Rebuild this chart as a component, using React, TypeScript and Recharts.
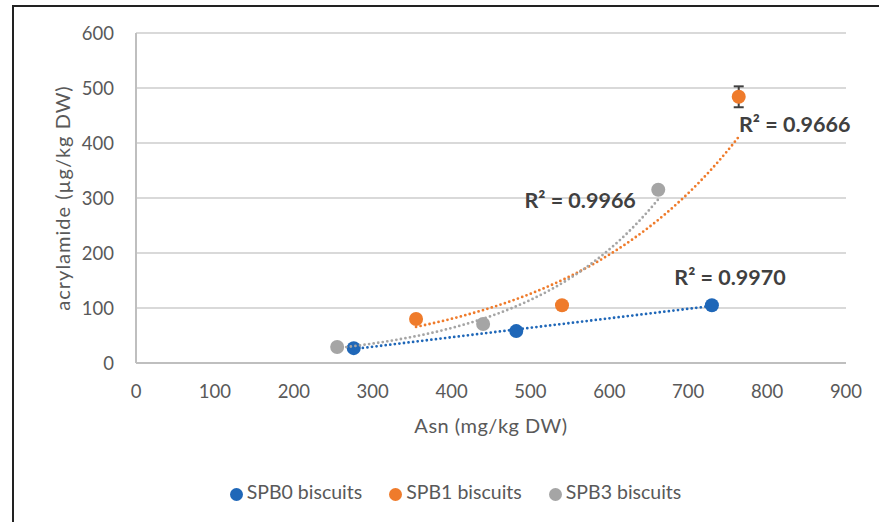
import React from 'react';
import {
  ScatterChart,
  Scatter,
  XAxis,
  YAxis,
  CartesianGrid,
  Legend,
  ErrorBar,
  ReferenceDot,
} from 'recharts';

// Asn vs acrylamide, one list per biscuit type
const SPB0_ASN = [276, 482, 730];
const SPB0_ACR = [27, 58, 105];

const SPB1_ASN = [355, 540, 764];
const SPB1_ACR = [80, 105, 484];
const SPB1_SD = [null, null, 19];

const SPB3_ASN = [255, 440, 662];
const SPB3_ACR = [29, 71, 315];

const X_TICKS = [0, 100, 200, 300, 400, 500, 600, 700, 800, 900];
const Y_TICKS = [0, 100, 200, 300, 400, 500, 600];

// R² annotations: text and where they sit in data units
const R2_TEXT = ['R² = 0.9970', 'R² = 0.9666', 'R² = 0.9966'];
const R2_X = [753, 835, 563];
const R2_Y = [155, 433, 295];

const BLUE = '#1f67b8';
const ORANGE = '#ef7b2b';
const GRAY = '#a5a5a5';
const TEXT = '#595959';

const toPoints = (xs: number[], ys: number[], err?: (number | null)[]) =>
  xs.map((x, i) => ({ x, y: ys[i], err: err ? err[i] : null }));

// least squares line y = a + b*x
const fitLine = (xs: number[], ys: number[]) => {
  const n = xs.length;
  const mx = xs.reduce((s, v) => s + v, 0) / n;
  const my = ys.reduce((s, v) => s + v, 0) / n;
  let sxy = 0;
  let sxx = 0;
  xs.forEach((x, i) => {
    sxy += (x - mx) * (ys[i] - my);
    sxx += (x - mx) * (x - mx);
  });
  const b = sxy / sxx;
  return { a: my - b * mx, b };
};

const sampleTrend = (xs: number[], f: (x: number) => number, steps = 48) => {
  const x0 = Math.min(...xs);
  const x1 = Math.max(...xs);
  const out: { x: number; y: number }[] = [];
  for (let i = 0; i <= steps; i++) {
    const x = x0 + ((x1 - x0) * i) / steps;
    out.push({ x, y: f(x) });
  }
  return out;
};

// linear trendline
const linTrend = (xs: number[], ys: number[]) => {
  const { a, b } = fitLine(xs, ys);
  return sampleTrend(xs, x => a + b * x);
};

// exponential trendline y = a*e^(bx)
const expTrend = (xs: number[], ys: number[]) => {
  const { a, b } = fitLine(xs, ys.map(v => Math.log(v)));
  return sampleTrend(xs, x => Math.exp(a + b * x));
};

const spb0 = toPoints(SPB0_ASN, SPB0_ACR);
const spb1 = toPoints(SPB1_ASN, SPB1_ACR, SPB1_SD);
const spb3 = toPoints(SPB3_ASN, SPB3_ACR);

const trend0 = linTrend(SPB0_ASN, SPB0_ACR);
const trend1 = expTrend(SPB1_ASN, SPB1_ACR);
const trend3 = expTrend(SPB3_ASN, SPB3_ACR);

const noMarker = () => <g />;

const marker = (color: string) => (p: any) =>
  <circle cx={p.cx} cy={p.cy} r={7} fill={color} />;

const dotted = (color: string) => ({
  stroke: color,
  strokeWidth: 2.8,
  strokeDasharray: '0 4.6',
  strokeLinecap: 'round' as const,
});

const YTitle = (props: any) => {
  const { x, y, height } = props.viewBox;
  const cx = x + 46;
  const cy = y + height / 2;
  return (
    <text
      x={cx}
      y={cy}
      transform={`rotate(-90 ${cx} ${cy})`}
      textAnchor="middle"
      dominantBaseline="central"
      fontSize={20}
      fill={TEXT}
      letterSpacing={1}
    >
      acrylamide (µg/kg DW)
    </text>
  );
};

const XTitle = (props: any) => {
  const { x, y, width } = props.viewBox;
  return (
    <text
      x={x + width / 2}
      y={y + 62}
      textAnchor="middle"
      dominantBaseline="central"
      fontSize={20}
      fill={TEXT}
      letterSpacing={0.5}
    >
      Asn (mg/kg DW)
    </text>
  );
};

export default function App() {
  return (
    <div
      style={{
        position: 'absolute',
        left: 0,
        top: 0,
        width: 879,
        height: 522,
        overflow: 'hidden',
        background: '#fff',
        fontFamily: 'Lato, "Open Sans", sans-serif',
      }}
    >
      <div
        style={{
          position: 'absolute',
          left: 12,
          top: 5,
          width: 1000,
          height: 1000,
          border: '2px solid #222',
        }}
      />
      <ScatterChart
        width={879}
        height={522}
        margin={{ top: 33, right: 33, left: 16, bottom: 55 }}
        style={{ position: 'absolute', left: 0, top: 0 }}
      >
        <CartesianGrid vertical={false} stroke="#d9d9d9" strokeWidth={2} />
        <XAxis
          type="number"
          dataKey="x"
          domain={[0, 900]}
          ticks={X_TICKS}
          height={80}
          tickLine={false}
          axisLine={{ stroke: '#bfbfbf', strokeWidth: 2 }}
          tick={{ fill: TEXT, fontSize: 18.5 }}
          tickMargin={16}
          label={(p: any) => <XTitle {...p} />}
        />
        <YAxis
          type="number"
          dataKey="y"
          domain={[0, 600]}
          ticks={Y_TICKS}
          width={120}
          tickLine={false}
          axisLine={{ stroke: '#bfbfbf', strokeWidth: 2 }}
          tick={{ fill: TEXT, fontSize: 18.5 }}
          tickMargin={16}
          label={(p: any) => <YTitle {...p} />}
        />
        <Legend
          verticalAlign="bottom"
          height={24}
          iconType="circle"
          iconSize={13}
          wrapperStyle={{ bottom: 18, left: 54 }}
          formatter={(value: string) => (
            <span style={{ color: TEXT, fontSize: 19.5, marginRight: 17 }}>{value}</span>
          )}
        />
        <Scatter
          name="SPB0 biscuits"
          data={spb0}
          fill={BLUE}
          shape={marker(BLUE)}
          isAnimationActive={false}
        />
        <Scatter
          name="SPB1 biscuits"
          data={spb1}
          fill={ORANGE}
          shape={marker(ORANGE)}
          isAnimationActive={false}
        >
          <ErrorBar dataKey="err" direction="y" width={5} stroke="#404040" strokeWidth={2} />
        </Scatter>
        <Scatter
          name="SPB3 biscuits"
          data={spb3}
          fill={GRAY}
          shape={marker(GRAY)}
          isAnimationActive={false}
        />
        <Scatter
          data={trend0}
          fill={BLUE}
          line={dotted(BLUE)}
          shape={noMarker}
          legendType="none"
          isAnimationActive={false}
        />
        <Scatter
          data={trend1}
          fill={ORANGE}
          line={dotted(ORANGE)}
          shape={noMarker}
          legendType="none"
          isAnimationActive={false}
        />
        <Scatter
          data={trend3}
          fill={GRAY}
          line={dotted(GRAY)}
          shape={noMarker}
          legendType="none"
          isAnimationActive={false}
        />
        {R2_TEXT.map((t, i) => (
          <ReferenceDot
            key={t}
            x={R2_X[i]}
            y={R2_Y[i]}
            r={0}
            stroke="none"
            fill="none"
            label={{
              value: t,
              position: 'center',
              fill: '#404040',
              fontSize: 21.5,
              fontWeight: 'bold',
            }}
          />
        ))}
      </ScatterChart>
    </div>
  );
}
